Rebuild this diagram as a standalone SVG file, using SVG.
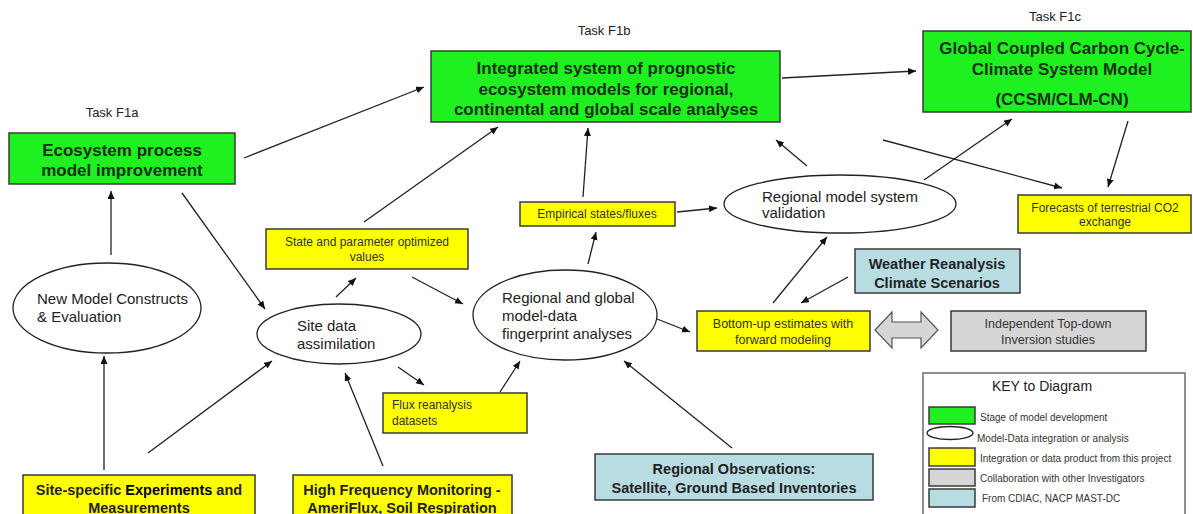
<svg xmlns="http://www.w3.org/2000/svg" width="1193" height="514" viewBox="0 0 1193 514">
<defs>
<marker id="ah" markerUnits="userSpaceOnUse" markerWidth="9" markerHeight="8" refX="8" refY="3.5" orient="auto">
<path d="M0,0 L8,3.5 L0,7 z" fill="#111"/>
</marker>
<style>
.green{fill:#1ff01f;stroke:#3a3a3a;stroke-width:1.5}
.yellow{fill:#ffff00;stroke:#3a3a3a;stroke-width:1.5}
.blue{fill:#b7dde3;stroke:#3a3a3a;stroke-width:1.5}
.gray{fill:#d6d6d6;stroke:#3a3a3a;stroke-width:1.5}
.ell{fill:#fff;stroke:#222;stroke-width:1.3}
.bt{font-family:"Liberation Sans",Arial,sans-serif;font-weight:bold;font-size:17px;fill:#163016;text-anchor:middle}
.bb{font-family:"Liberation Sans",Arial,sans-serif;font-weight:bold;font-size:14.5px;fill:#222;text-anchor:middle}
.et{font-family:"Liberation Sans",Arial,sans-serif;font-size:15px;fill:#222}
.st{font-family:"Liberation Sans",Arial,sans-serif;font-size:12px;fill:#333;text-anchor:middle}
.task{font-family:"Liberation Sans",Arial,sans-serif;font-size:13px;fill:#222;text-anchor:middle}
.kt{font-family:"Liberation Sans",Arial,sans-serif;font-size:10px;fill:#333}
.c{fill:none;stroke:#222;stroke-width:1.3;marker-end:url(#ah)}
</style>
</defs>
<rect width="1193" height="514" fill="#fff"/>

<text class="task" x="112" y="117">Task F1a</text>
<text class="task" x="604" y="35">Task F1b</text>
<text class="task" x="1055" y="21">Task F1c</text>

<g id="ecosystem">
<rect class="green" x="9" y="133" width="226" height="51"/>
<text class="bt" x="122" y="156">Ecosystem process</text>
<text class="bt" x="122" y="176">model improvement</text>
</g>

<g id="integrated">
<rect class="green" x="431" y="51" width="349" height="71"/>
<text class="bt" x="606" y="74">Integrated system of prognostic</text>
<text class="bt" x="606" y="95">ecosystem models for regional,</text>
<text class="bt" x="606" y="115">continental and global scale analyses</text>
</g>

<g id="global">
<rect class="green" x="923" y="31" width="268" height="81"/>
<text class="bt" x="1062" y="54">Global Coupled Carbon Cycle-</text>
<text class="bt" x="1062" y="75">Climate System Model</text>
<text class="bt" x="1062" y="105">(CCSM/CLM-CN)</text>
</g>

<g id="forecasts">
<rect class="yellow" x="1018" y="195" width="173" height="38"/>
<text class="st" x="1105" y="212">Forecasts of terrestrial CO2</text>
<text class="st" x="1105" y="226">exchange</text>
</g>

<g id="validation">
<ellipse class="ell" cx="840" cy="204" rx="116" ry="29"/>
<text class="et" x="762" y="202">Regional model system</text>
<text class="et" x="762" y="218">validation</text>
</g>

<g id="empirical">
<rect class="yellow" x="520" y="202" width="155" height="24"/>
<text class="st" x="597" y="218">Empirical states/fluxes</text>
</g>

<g id="stateparam">
<rect class="yellow" x="266" y="229" width="202" height="40"/>
<text class="st" x="367" y="246">State and parameter optimized</text>
<text class="st" x="367" y="261">values</text>
</g>

<g id="newmodel">
<ellipse class="ell" cx="107" cy="308" rx="94" ry="45"/>
<text class="et" x="37" y="304">New Model Constructs</text>
<text class="et" x="37" y="322">&amp; Evaluation</text>
</g>

<g id="sitedata">
<ellipse class="ell" cx="339" cy="334" rx="82" ry="30"/>
<text class="et" x="297" y="331">Site data</text>
<text class="et" x="297" y="349">assimilation</text>
</g>

<g id="regionalglobal">
<ellipse class="ell" cx="565" cy="315" rx="92" ry="45"/>
<text class="et" x="502" y="303">Regional and global</text>
<text class="et" x="502" y="321">model-data</text>
<text class="et" x="502" y="339">fingerprint analyses</text>
</g>

<g id="flux">
<rect class="yellow" x="383" y="393" width="144" height="40"/>
<text class="st" x="392" y="409" text-anchor="start" style="text-anchor:start">Flux reanalysis</text>
<text class="st" x="392" y="425" style="text-anchor:start">datasets</text>
</g>

<g id="bottomup">
<rect class="yellow" x="697" y="311" width="173" height="40"/>
<text class="st" x="783" y="328" style="font-size:12.5px">Bottom-up estimates with</text>
<text class="st" x="783" y="344" style="font-size:12.5px">forward modeling</text>
</g>

<g id="weather">
<rect class="blue" x="855" y="249" width="165" height="44"/>
<text class="bb" x="937" y="269">Weather Reanalysis</text>
<text class="bb" x="937" y="288">Climate Scenarios</text>
</g>

<g id="doublearrow">
<polygon points="875,330 892,312 892,322 921,322 921,312 938,330 921,348 921,338 892,338 892,348" fill="#d6d6d6" stroke="#555" stroke-width="1.2"/>
</g>

<g id="independent">
<rect class="gray" x="951" y="311" width="195" height="40"/>
<text class="st" x="1048" y="328" style="font-size:12.5px">Independent Top-down</text>
<text class="st" x="1048" y="344" style="font-size:12.5px">Inversion studies</text>
</g>

<g id="sitespecific">
<rect class="yellow" x="23" y="475" width="232" height="45"/>
<text class="bb" x="139" y="495">Site-specific <tspan style="font-weight:900;fill:#000">Experiments</tspan> and</text>
<text class="bb" x="139" y="513">Measurements</text>
</g>

<g id="highfreq">
<rect class="yellow" x="293" y="475" width="219" height="45"/>
<text class="bb" x="402" y="495">High Frequency Monitoring -</text>
<text class="bb" x="402" y="513">AmeriFlux, Soil Respiration</text>
</g>

<g id="regionalobs">
<rect class="blue" x="595" y="454" width="278" height="46"/>
<text class="bb" x="734" y="474">Regional Observations:</text>
<text class="bb" x="734" y="493">Satellite, Ground Based Inventories</text>
</g>

<g id="key">
<rect x="923" y="373" width="262" height="150" fill="#fff" stroke="#555" stroke-width="1.3"/>
<text x="1042" y="391" style="font-family:'Liberation Sans',Arial,sans-serif;font-size:14px;fill:#222;text-anchor:middle">KEY to Diagram</text>
<rect class="green" x="929" y="407" width="46" height="17"/>
<text class="kt" x="980" y="421">Stage of model development</text>
<ellipse class="ell" cx="950" cy="433" rx="23" ry="6.5"/>
<text class="kt" x="977" y="442">Model-Data integration or analysis</text>
<rect class="yellow" x="929" y="448" width="46" height="18"/>
<text class="kt" x="980" y="462">Integration or data product from this project</text>
<rect class="gray" x="929" y="469" width="46" height="17"/>
<text class="kt" x="980" y="482">Collaboration with other Investigators</text>
<rect class="blue" x="929" y="489" width="46" height="18"/>
<text class="kt" x="982" y="502">From CDIAC, NACP MAST-DC</text>
</g>

<g id="connectors">
<line class="c" x1="244" y1="158" x2="424" y2="87"/>
<line class="c" x1="782" y1="78" x2="916" y2="71"/>
<line class="c" x1="182" y1="193" x2="265" y2="309"/>
<line class="c" x1="111" y1="255" x2="111" y2="191"/>
<line class="c" x1="104" y1="470" x2="104" y2="356"/>
<line class="c" x1="148" y1="453" x2="272" y2="361"/>
<line class="c" x1="383" y1="466" x2="345" y2="373"/>
<line class="c" x1="336" y1="297" x2="356" y2="278"/>
<line class="c" x1="364" y1="222" x2="498" y2="127"/>
<line class="c" x1="412" y1="277" x2="463" y2="304"/>
<line class="c" x1="398" y1="367" x2="424" y2="385"/>
<line class="c" x1="500" y1="392" x2="520" y2="361"/>
<line class="c" x1="588" y1="264" x2="596" y2="232"/>
<line class="c" x1="583" y1="197" x2="588" y2="128"/>
<line class="c" x1="677" y1="212" x2="717" y2="208"/>
<line class="c" x1="807" y1="166" x2="776" y2="140"/>
<line class="c" x1="924" y1="180" x2="1012" y2="119"/>
<line class="c" x1="883" y1="140" x2="1062" y2="188"/>
<line class="c" x1="1128" y1="121" x2="1108" y2="187"/>
<line class="c" x1="773" y1="303" x2="827" y2="237"/>
<line class="c" x1="848" y1="277" x2="801" y2="303"/>
<line class="c" x1="657" y1="319" x2="690" y2="332"/>
<line class="c" x1="732" y1="448" x2="624" y2="361"/>
</g>
</svg>
